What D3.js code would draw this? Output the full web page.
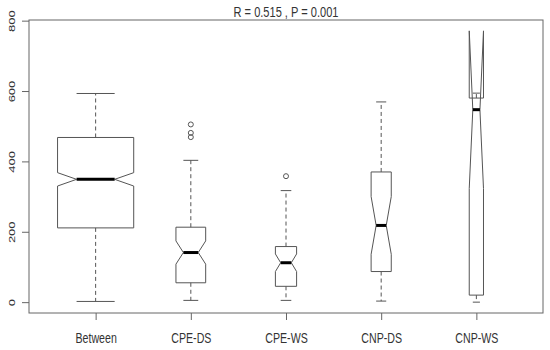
<!DOCTYPE html>
<html>
<head>
<meta charset="utf-8">
<script src="https://cdn.jsdelivr.net/npm/d3@7"></script>
<style>
    body { margin: 0; background: #fff; }
    text { font-family: "Liberation Sans", Arial, sans-serif; fill: #333; }
</style>
</head>
<body>
<svg id="drawing_region"></svg>
<script>
// boxplot statistics
const groups = ["Between", "CPE-DS", "CPE-WS", "CNP-DS", "CNP-WS"];
const counts = [400, 61, 31, 28, 14];
const whiskerLow = [2, 5, 5, 3, 0];
const lowerHinge = [211, 55, 45, 87, 20];
const medians = [349, 141, 112, 218, 547];
const upperHinge = [468, 213, 158, 370, 580];
const whiskerHigh = [593, 403, 317, 569, 594];
const confLow = [330, 108, 87, 136, 323];
const confHigh = [368, 174, 137, 300, 771];
const outliers = [[], [505, 481, 469], [358], [], []];
const yTicks = [0, 200, 400, 600, 800];
const title = "R = 0.515 , P = 0.001";

const config = {
    parent: '#drawing_region',
    width: 550,
    height: 350,
    margin: { top: 20, right: 7, bottom: 37, left: 29 }
};

const svg = d3.select(config.parent)
    .attr('width', config.width)
    .attr('height', config.height);

const plotLeft = config.margin.left;
const plotRight = config.width - config.margin.right;
const plotTop = config.margin.top;
const plotBottom = config.height - config.margin.bottom;

const n = groups.length;
const data = groups.map((g, i) => ({
    name: g, idx: i + 1, n: counts[i],
    stats: [whiskerLow[i], lowerHinge[i], medians[i], upperHinge[i], whiskerHigh[i]],
    conf: [confLow[i], confHigh[i]],
    out: outliers[i]
}));

// R style axis ranges: extend 4% on each side
const xlo = 0.5, xhi = n + 0.5;
const xScale = d3.scaleLinear()
    .domain([xlo - 0.04 * (xhi - xlo), xhi + 0.04 * (xhi - xlo)])
    .range([plotLeft, plotRight]);

const allY = d3.merge([whiskerLow, whiskerHigh, confLow, confHigh, d3.merge(outliers)]);
const ylo = d3.min(allY), yhi = d3.max(allY);
const yScale = d3.scaleLinear()
    .domain([ylo - 0.04 * (yhi - ylo), yhi + 0.04 * (yhi - ylo)])
    .range([plotBottom, plotTop]);

const maxSqrt = d3.max(counts, c => Math.sqrt(c));
const unit = xScale(1) - xScale(0);
const halfWidth = d => 0.4 * Math.sqrt(d.n) / maxSqrt * unit;

const lineColor = '#555';
const g = svg.append('g');

// whiskers
data.forEach(d => {
    const cx = xScale(d.idx);
    const w = halfWidth(d);
    [[d.stats[1], d.stats[0]], [d.stats[3], d.stats[4]]].forEach(([a, b]) => {
        g.append('line')
            .attr('x1', cx).attr('x2', cx)
            .attr('y1', yScale(a)).attr('y2', yScale(b))
            .attr('stroke', lineColor)
            .attr('stroke-dasharray', '4,3');
        g.append('line')
            .attr('x1', cx - w * 0.5).attr('x2', cx + w * 0.5)
            .attr('y1', yScale(b)).attr('y2', yScale(b))
            .attr('stroke', lineColor);
    });
});

// notched boxes
const fx = [-1, 1, 1, 0.5, 1, 1, -1, -1, -0.5, -1];
g.selectAll('.box')
    .data(data)
    .enter()
    .append('polygon')
    .attr('class', 'box')
    .attr('points', d => {
        const cx = xScale(d.idx), w = halfWidth(d);
        const ys = [d.stats[1], d.stats[1], d.conf[0], d.stats[2], d.conf[1],
                    d.stats[3], d.stats[3], d.conf[1], d.stats[2], d.conf[0]];
        return fx.map((f, k) => [cx + f * w, yScale(ys[k])].join(',')).join(' ');
    })
    .attr('fill', 'none')
    .attr('stroke', lineColor)
    .attr('stroke-width', 1);

// medians
g.selectAll('.median')
    .data(data)
    .enter()
    .append('line')
    .attr('x1', d => xScale(d.idx) - halfWidth(d) * 0.5)
    .attr('x2', d => xScale(d.idx) + halfWidth(d) * 0.5)
    .attr('y1', d => yScale(d.stats[2]))
    .attr('y2', d => yScale(d.stats[2]))
    .attr('stroke', '#000')
    .attr('stroke-width', 3);

// outliers
data.forEach(d => {
    g.selectAll(null)
        .data(d.out)
        .enter()
        .append('circle')
        .attr('cx', xScale(d.idx))
        .attr('cy', v => yScale(v))
        .attr('r', 2.5)
        .attr('fill', 'none')
        .attr('stroke', lineColor);
});

// frame
svg.append('rect')
    .attr('x', plotLeft).attr('y', plotTop)
    .attr('width', plotRight - plotLeft).attr('height', plotBottom - plotTop)
    .attr('fill', 'none')
    .attr('stroke', '#666');

// axes
const yAxis = svg.append('g')
    .attr('transform', `translate(${plotLeft},0)`)
    .call(d3.axisLeft(yScale).tickValues(yTicks).tickSize(7));
yAxis.select('.domain').remove();
yAxis.selectAll('line').attr('stroke', '#666');
yAxis.selectAll('text')
    .attr('x', null).attr('dy', null)
    .attr('text-anchor', 'middle')
    .attr('transform', 'translate(-14,0) scale(0.75,1) rotate(-90)')
    .style('font-size', '13px')
    .style('font-family', '"Liberation Sans", Arial, sans-serif')
    .attr('fill', '#444');

const xAxis = svg.append('g')
    .attr('transform', `translate(0,${plotBottom})`)
    .call(d3.axisBottom(xScale)
        .tickValues(d3.range(1, n + 1))
        .tickFormat(i => groups[i - 1])
        .tickSize(7));
xAxis.select('.domain').remove();
xAxis.selectAll('line').attr('stroke', '#666');
xAxis.selectAll('text')
    .attr('y', null).attr('dy', null)
    .attr('transform', 'translate(0,30) scale(0.76,1)')
    .style('font-size', '14px')
    .style('font-family', '"Liberation Sans", Arial, sans-serif')
    .attr('fill', '#444');

// title
svg.append('text')
    .attr('text-anchor', 'middle')
    .attr('transform', `translate(${(plotLeft + plotRight) / 2},17) scale(0.79,1)`)
    .style('font-size', '14px')
    .attr('fill', '#444')
    .text(title);
</script>
</body>
</html>
